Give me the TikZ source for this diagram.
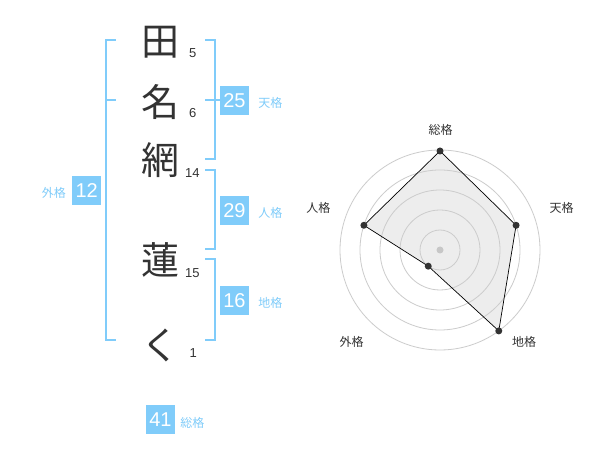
\documentclass[tikz,border=0pt]{standalone}
\usepackage{fontspec}
\setmainfont{Liberation Sans}
\newfontfamily\jp{Noto Sans CJK JP}
\usetikzlibrary{calc}
\definecolor{kaku}{RGB}{128,204,250}
\definecolor{ink}{RGB}{51,51,51}

\begin{document}
\begin{tikzpicture}[x=1pt,y=-1pt,
    moji/.style={font=\jp\fontsize{38}{38}\selectfont,text=ink,inner sep=0},
    kakusu/.style={font=\fontsize{13}{13}\selectfont,text=ink,inner sep=0},
    kakubox/.style={fill=kaku,text=white,minimum size=29pt,inner sep=0,font=\fontsize{20}{20}\selectfont},
    kakuname/.style={text=kaku,font=\jp\fontsize{12}{12}\selectfont,inner sep=0,anchor=west},
    bracket/.style={draw=kaku,line width=2pt},
    ring/.style={draw=black!20,line width=0.8pt},
    axislabel/.style={text=ink,font=\jp\fontsize{12}{12}\selectfont,inner sep=0},
    dot/.style={circle,fill=ink,inner sep=0,minimum size=7pt}]
    \useasboundingbox[fill=white] (0,0) rectangle (600,470);

    % name characters and stroke counts
    \node[moji] (c1) at (160,42) {田};
    \node[moji] (c2) at (160,102) {名};
    \node[moji] (c3) at (160,160) {網};
    \node[moji] (c4) at (160,260) {蓮};
    \node[moji] (c5) at (160,345) {く};
    \node[kakusu] (n1) at (192.7,53.3) {5};
    \node[kakusu] (n2) at (192.7,113.3) {6};
    \node[kakusu] (n3) at (192.3,173.3) {14};
    \node[kakusu] (n4) at (192.3,273.3) {15};
    \node[kakusu] (n5) at (193.3,353.3) {1};

    % brackets
    \draw[bracket] (115.7,40)--(105.7,40)--(105.7,340)--(115.7,340);
    \draw[bracket] (105.7,100)--(115.7,100);
    \draw[bracket] (205,40)--(214.5,40)--(214.5,159.3)--(205,159.3);
    \draw[bracket] (205,100)--(220,100);
    \draw[bracket] (205,170)--(214.5,170)--(214.5,249.3)--(205,249.3);
    \draw[bracket] (205,259.3)--(214.5,259.3)--(214.5,340)--(205,340);

    % scores
    \node[kakubox] (ten) at (234.5,100.3) {25};
    \node[kakuname] at ($(ten.east)+(9,3)$) {天格};
    \node[kakubox] (jin) at (234.5,210.3) {29};
    \node[kakuname] at ($(jin.east)+(9,3)$) {人格};
    \node[kakubox] (chi) at (234.5,300.3) {16};
    \node[kakuname] at ($(chi.east)+(9,3)$) {地格};
    \node[kakubox] (gai) at (86.7,190.3) {12};
    \node[kakuname,anchor=east] at ($(gai.west)+(-6,3)$) {外格};
    \node[kakubox] (sou) at (160.5,419.5) {41};
    \node[kakuname] at ($(sou.east)+(5,3)$) {総格};

    % radar chart
    \coordinate (o) at (440,250);
    \coordinate (pSou) at ($(o)+(0,-99)$);
    \coordinate (pTen) at ($(o)+({80*cos(18)},{-80*sin(18)})$);
    \coordinate (pChi) at ($(o)+({100*cos(54)},{100*sin(54)})$);
    \coordinate (pGai) at ($(o)+({-20*cos(54)},{20*sin(54)})$);
    \coordinate (pJin) at ($(o)+({-80*cos(18)},{-80*sin(18)})$);
    \fill[black!7] (pSou)--(pTen)--(pChi)--(pGai)--(pJin)--cycle;
    \foreach \r in {20,40,...,100}
        \draw[ring] (o) circle (\r);
    \fill[black!22] (o) circle (3.5);
    \draw[line width=0.7pt] (pSou)--(pTen)--(pChi)--(pGai)--(pJin)--cycle;
    \foreach \p in {pSou,pTen,pChi,pGai,pJin}
        \node[dot] at (\p) {};
    \node[axislabel] at (440.7,130) {総格};
    \node[axislabel] at (561.7,208.3) {天格};
    \node[axislabel] at (524,342) {地格};
    \node[axislabel] at (351.7,342) {外格};
    \node[axislabel] at (318.3,208.3) {人格};
\end{tikzpicture}
\end{document}
